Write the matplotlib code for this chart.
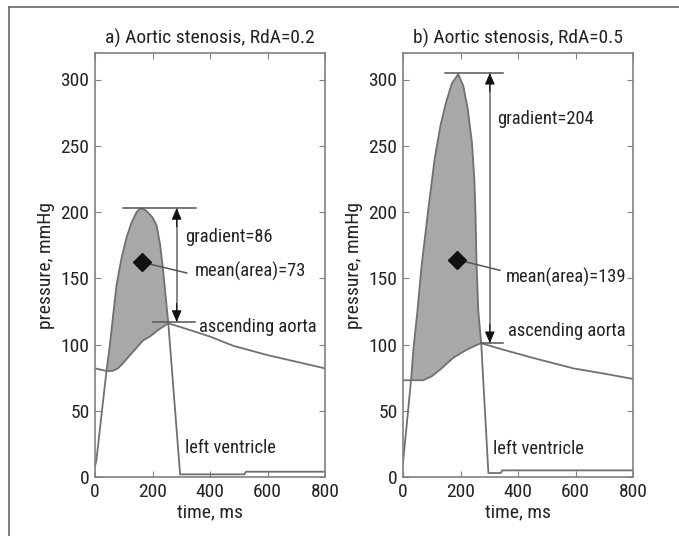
import numpy as np
import matplotlib
matplotlib.use("Agg")
import matplotlib.pyplot as plt
from matplotlib.lines import Line2D

plt.rcParams['font.family'] = ['Liberation Sans Narrow', 'Roboto Condensed', 'DejaVu Sans']
plt.rcParams['font.stretch'] = 'condensed'

# panel a) RdA=0.2
a_lv_t = [0, 5, 40, 52, 62, 75, 93, 110, 127, 145, 160, 178, 200, 214, 226, 236, 245, 255, 296, 520, 525, 800]
a_lv_p = [8, 13, 80, 100, 120, 145, 166, 181, 192, 200, 203, 201, 196, 190, 176, 158, 138, 116, 2, 2, 4, 4]
a_ao_t = [0, 20, 40, 60, 80, 98, 130, 167, 191, 220, 255, 300, 400, 481, 600, 700, 800]
a_ao_p = [82, 81, 80, 80, 82, 86, 94, 103, 106, 111, 116, 113, 106, 99, 92, 87, 82]

# panel b) RdA=0.5
b_lv_t = [0, 1, 28, 36, 50, 65, 88, 110, 130, 150, 170, 192, 210, 225, 240, 248, 252, 256, 262, 272, 297, 340, 345, 800]
b_lv_p = [10, 13, 73, 96, 125, 160, 202, 240, 265, 283, 297, 304, 295, 278, 252, 225, 200, 160, 125, 101, 3, 3, 5, 5]
b_ao_t = [0, 28, 70, 100, 129, 175, 221, 250, 272, 350, 450, 592, 700, 800]
b_ao_p = [73, 73, 73, 76, 81, 90, 96, 99, 101, 96, 90, 82, 78, 74]

panels = [
    dict(title="a) Aortic stenosis, RdA=0.2", lv_t=a_lv_t, lv_p=a_lv_p, ao_t=a_ao_t, ao_p=a_ao_p,
         cross=(40, 255), peak=203, base=117, arrow_t=284, top_span=(98, 350), bot_span=(200, 348),
         diamond=(165, 162), mean_end=(319, 154),
         labels=[("gradient=86", 313, 181), ("mean(area)=73", 346, 155),
                 ("ascending aorta", 363, 113), ("left ventricle", 313, 22)]),
    dict(title="b) Aortic stenosis, RdA=0.5", lv_t=b_lv_t, lv_p=b_lv_p, ao_t=b_ao_t, ao_p=b_ao_p,
         cross=(28, 272), peak=305, base=101, arrow_t=302, top_span=(146, 348), bot_span=(272, 349),
         diamond=(187, 164), mean_end=(337, 156),
         labels=[("gradient=204", 326, 270), ("mean(area)=139", 357, 151),
                 ("ascending aorta", 366, 110), ("left ventricle", 314, 21)]),
]

fig = plt.figure(figsize=(6.79, 5.36), dpi=100)
line_c = '#707070'
spine_c = '#808080'
fs = 14
lefts = [95 / 679, 403 / 679]

for pos, pn in zip(lefts, panels):
    ax = fig.add_axes([pos, 1 - 477 / 536, 230 / 679, 424 / 536])
    lv_t = np.array(pn['lv_t']); lv_p = np.array(pn['lv_p'])
    ao_t = np.array(pn['ao_t']); ao_p = np.array(pn['ao_p'])
    t0, t1 = pn['cross']
    m1 = (lv_t >= t0) & (lv_t <= t1)
    m2 = (ao_t >= t0) & (ao_t <= t1)
    poly_t = np.concatenate([lv_t[m1], ao_t[m2][::-1]])
    poly_p = np.concatenate([lv_p[m1], ao_p[m2][::-1]])
    ax.fill(poly_t, poly_p, color='#a8a8a8', lw=0)
    ax.plot(ao_t, ao_p, color=line_c, lw=1.3)
    ax.plot(lv_t, lv_p, color=line_c, lw=1.3)

    # gradient markers
    ax.plot(pn['top_span'], [pn['peak']] * 2, color='#555555', lw=1.1)
    ax.plot(pn['bot_span'], [pn['base']] * 2, color='#555555', lw=1.1)
    ax.plot([pn['arrow_t']] * 2, [pn['base'], pn['peak']], color='#666666', lw=1.1)
    for tip, tail in [(pn['peak'], pn['peak'] - 14), (pn['base'], pn['base'] + 14)]:
        ax.annotate('', xy=(pn['arrow_t'], tip), xytext=(pn['arrow_t'], tail),
                    arrowprops=dict(arrowstyle='-|>,head_length=0.7,head_width=0.3',
                                    color='#111111', lw=0.8, shrinkA=0, shrinkB=0))

    dx, dy = pn['diamond']
    ax.plot([dx, pn['mean_end'][0]], [dy, pn['mean_end'][1]], color='#555555', lw=1.1)
    ax.plot(dx, dy, marker='D', ms=9, color='#111111')

    for txt, x, y in pn['labels']:
        ax.text(x, y, txt, fontsize=13.3, va='center', ha='left', color='#222222')

    ax.set_xlim(0, 800)
    ax.set_ylim(0, 320)
    ax.set_xticks([0, 200, 400, 600, 800])
    ax.set_yticks([0, 50, 100, 150, 200, 250, 300])
    ax.tick_params(direction='in', length=4, color=spine_c, labelsize=fs,
                   top=True, right=True, labelcolor='#222222', pad=4)
    for s in ax.spines.values():
        s.set_color(spine_c)
        s.set_linewidth(1.2)
    ax.set_title(pn['title'], fontsize=fs, pad=7, color='#222222')
    ax.set_xlabel('time, ms', fontsize=fs, color='#222222', labelpad=2)
    ax.set_ylabel('pressure, mmHg', fontsize=fs, color='#222222', labelpad=4)

# outer frame (top and left only)
fig.add_artist(Line2D([9 / 679, 1], [1 - 7 / 536] * 2, transform=fig.transFigure, color='#666666', lw=1.2))
fig.add_artist(Line2D([9 / 679] * 2, [0, 1 - 7 / 536], transform=fig.transFigure, color='#666666', lw=1.2))

fig.savefig('out.png', dpi=100)
